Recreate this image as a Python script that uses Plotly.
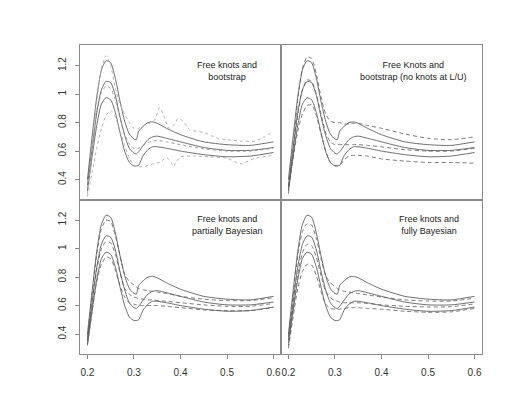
import plotly.graph_objects as go
from plotly.subplots import make_subplots

# shared x grid for the smooth curves
x = [0.20, 0.21, 0.22, 0.23, 0.24, 0.25, 0.26, 0.27, 0.28, 0.29, 0.30, 0.305,
     0.31, 0.32, 0.33, 0.34, 0.35, 0.37, 0.40, 0.45, 0.50, 0.55, 0.60]

# solid curves (same in every panel)
solid_upper = [0.40, 0.70, 0.98, 1.17, 1.235, 1.22, 1.11, 0.95, 0.81, 0.72, 0.685, 0.68,
               0.74, 0.775, 0.80, 0.805, 0.795, 0.76, 0.715, 0.665, 0.645, 0.64, 0.665]
solid_mid = [0.36, 0.62, 0.87, 1.03, 1.09, 1.08, 0.99, 0.84, 0.71, 0.62, 0.585, 0.58,
             0.595, 0.64, 0.68, 0.70, 0.705, 0.69, 0.665, 0.625, 0.605, 0.605, 0.625]
solid_low = [0.32, 0.56, 0.78, 0.93, 0.975, 0.96, 0.87, 0.73, 0.60, 0.52, 0.495, 0.495,
             0.50, 0.57, 0.61, 0.63, 0.63, 0.62, 0.60, 0.575, 0.56, 0.565, 0.59]

# top left: free knots and bootstrap (dotted)
boot_mid = [0.33, 0.60, 0.86, 1.01, 1.055, 1.04, 0.96, 0.83, 0.72, 0.65, 0.62, 0.615,
            0.62, 0.64, 0.66, 0.67, 0.675, 0.665, 0.645, 0.615, 0.60, 0.60, 0.62]
boot_up_x = [0.20, 0.21, 0.22, 0.23, 0.24, 0.25, 0.26, 0.27, 0.28, 0.29, 0.30, 0.31, 0.32,
             0.33, 0.345, 0.355, 0.365, 0.375, 0.385, 0.395, 0.405, 0.42, 0.45, 0.48, 0.50,
             0.53, 0.56, 0.58, 0.60]
boot_up = [0.30, 0.62, 0.95, 1.18, 1.27, 1.20, 1.04, 0.93, 0.86, 0.80, 0.76, 0.76, 0.78,
           0.79, 0.82, 0.905, 0.84, 0.76, 0.78, 0.83, 0.81, 0.75, 0.73, 0.69, 0.68,
           0.67, 0.67, 0.70, 0.74]
boot_lo_x = [0.20, 0.21, 0.22, 0.23, 0.24, 0.25, 0.26, 0.27, 0.28, 0.29, 0.30, 0.31, 0.32,
             0.34, 0.355, 0.37, 0.38, 0.385, 0.39, 0.40, 0.43, 0.46, 0.50, 0.53, 0.56, 0.60]
boot_lo = [0.28, 0.45, 0.62, 0.76, 0.85, 0.885, 0.84, 0.74, 0.64, 0.55, 0.50, 0.49, 0.49,
           0.51, 0.52, 0.555, 0.52, 0.49, 0.52, 0.56, 0.565, 0.56, 0.55, 0.51, 0.55, 0.57]

# top right: bootstrap, no knots at L/U (dashed)
nolu_up = [0.30, 0.62, 0.96, 1.18, 1.26, 1.25, 1.14, 0.98, 0.86, 0.81, 0.80, 0.80,
           0.80, 0.79, 0.79, 0.795, 0.795, 0.78, 0.76, 0.72, 0.69, 0.68, 0.70]
nolu_mid = [0.33, 0.58, 0.85, 1.03, 1.10, 1.09, 1.00, 0.86, 0.73, 0.665, 0.645, 0.645,
            0.645, 0.645, 0.645, 0.645, 0.645, 0.64, 0.63, 0.61, 0.60, 0.60, 0.62]
nolu_lo = [0.35, 0.55, 0.74, 0.86, 0.92, 0.925, 0.85, 0.72, 0.60, 0.52, 0.50, 0.50,
           0.50, 0.54, 0.565, 0.57, 0.57, 0.565, 0.545, 0.53, 0.52, 0.52, 0.515]

# bottom left: partially Bayesian (dashed)
part_up = [0.38, 0.68, 0.96, 1.14, 1.20, 1.19, 1.09, 0.95, 0.82, 0.77, 0.745, 0.73,
           0.72, 0.71, 0.705, 0.70, 0.695, 0.685, 0.665, 0.645, 0.635, 0.635, 0.655]
part_mid = [0.35, 0.61, 0.85, 1.00, 1.05, 1.04, 0.96, 0.83, 0.72, 0.68, 0.66, 0.655,
            0.65, 0.645, 0.64, 0.64, 0.635, 0.63, 0.62, 0.605, 0.595, 0.595, 0.615]
part_lo = [0.33, 0.56, 0.77, 0.89, 0.94, 0.93, 0.85, 0.74, 0.66, 0.62, 0.61, 0.605,
           0.60, 0.60, 0.60, 0.60, 0.60, 0.595, 0.585, 0.57, 0.565, 0.565, 0.585]

# bottom right: fully Bayesian (dashed)
full_up = [0.38, 0.67, 0.95, 1.12, 1.175, 1.165, 1.07, 0.93, 0.81, 0.76, 0.735, 0.72,
           0.71, 0.70, 0.695, 0.69, 0.685, 0.675, 0.66, 0.64, 0.632, 0.632, 0.652]
full_mid = [0.34, 0.59, 0.82, 0.97, 1.03, 1.02, 0.94, 0.81, 0.70, 0.655, 0.635, 0.63,
            0.625, 0.62, 0.62, 0.62, 0.62, 0.615, 0.605, 0.595, 0.59, 0.592, 0.612]
full_lo = [0.30, 0.52, 0.72, 0.84, 0.89, 0.885, 0.81, 0.70, 0.61, 0.58, 0.575, 0.575,
           0.575, 0.58, 0.585, 0.585, 0.585, 0.58, 0.575, 0.56, 0.553, 0.556, 0.58]

titles = ["Free knots and<br>bootstrap",
          "Free Knots and<br>bootstrap (no knots at L/U)",
          "Free knots and<br>partially Bayesian",
          "Free knots and<br>fully Bayesian"]
x_ticks = [0.2, 0.3, 0.4, 0.5, 0.6]
y_ticks = [0.4, 0.6, 0.8, 1.0, 1.2]

fig = make_subplots(rows=2, cols=2, horizontal_spacing=0, vertical_spacing=0)

solid_col = "#4a4a4a"
dash_col = "#5a5a5a"
dot_col = "#b0b0b0"


def add(xv, yv, r, c, color, dash, width=0.8):
    fig.add_trace(go.Scatter(x=xv, y=yv, mode="lines",
                             line=dict(color=color, width=width, dash=dash,
                                       shape="spline", smoothing=0.6),
                             showlegend=False, hoverinfo="skip"), row=r, col=c)


for r in (1, 2):
    for c in (1, 2):
        for s in (solid_upper, solid_mid, solid_low):
            add(x, s, r, c, solid_col, "solid")

add(x, boot_mid, 1, 1, "#888888", "dot")
add(boot_up_x, boot_up, 1, 1, dot_col, "dot", 1.0)
add(boot_lo_x, boot_lo, 1, 1, dot_col, "dot", 1.0)

for s in (nolu_up, nolu_mid, nolu_lo):
    add(x, s, 1, 2, dash_col, "4px,3px")
for s in (part_up, part_mid, part_lo):
    add(x, s, 2, 1, dash_col, "4px,3px")
for s in (full_up, full_mid, full_lo):
    add(x, s, 2, 2, dash_col, "4px,3px")

ann_x = [0.50, 0.468, 0.50, 0.502]
for i, t in enumerate(titles):
    fig.add_annotation(text=t, x=ann_x[i], y=1.165, xref="x%d" % (i + 1) if i else "x",
                       yref="y%d" % (i + 1) if i else "y", showarrow=False,
                       font=dict(size=9, color="#222222"))

fig.update_xaxes(range=[0.184, 0.616], showline=True, mirror=True, linecolor="#8a8a8a",
                 linewidth=0.8, showgrid=False, zeroline=False, tickvals=x_ticks,
                 ticks="outside", ticklen=4, tickcolor="#8a8a8a", showticklabels=False,
                 automargin=False, ticklabelstandoff=5,
                 tickfont=dict(size=10, color="#333333"))
fig.update_yaxes(range=[0.26, 1.345], showline=True, mirror=True, linecolor="#8a8a8a",
                 linewidth=0.8, showgrid=False, zeroline=False, tickvals=y_ticks,
                 ticks="outside", ticklen=4, tickcolor="#8a8a8a", showticklabels=False,
                 automargin=False, tickangle=-90, ticklabelstandoff=5,
                 tickfont=dict(size=10, color="#333333"))
fig.update_xaxes(ticks="", row=1)
fig.update_xaxes(showticklabels=True, row=2)
fig.update_yaxes(ticks="", col=2)
fig.update_yaxes(showticklabels=True, col=1)

# page body has an 8px margin, so shift the plot area up/left by that much
fig.update_layout(width=517, height=400, plot_bgcolor="white", paper_bgcolor="white",
                  margin=dict(l=72, r=43, t=37, b=54),
                  font=dict(family="Liberation Sans, Arial, sans-serif"))

fig.write_html("out.html")
